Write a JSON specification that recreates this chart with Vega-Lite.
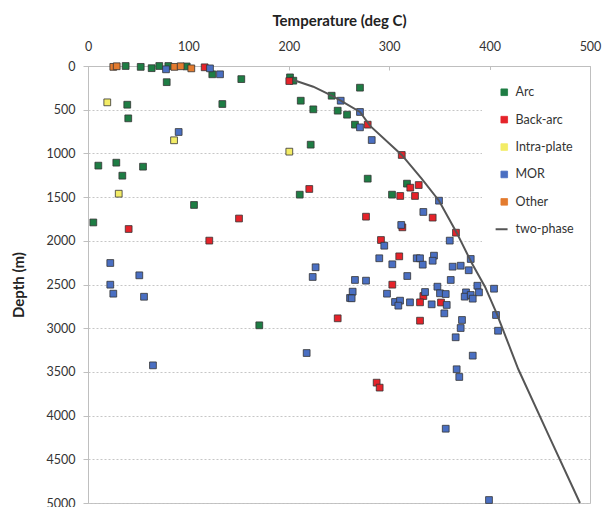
{
  "$schema": "https://vega.github.io/schema/vega-lite/v6.json",
  "autosize": "none",
  "width": 502,
  "height": 437,
  "padding": {"left": 88, "top": 66, "right": 14, "bottom": 4},
  "background": "white",
  "config": {
    "font": "Lato",
    "view": {"stroke": "#bfbfbf", "strokeWidth": 1}
  },
  "datasets": {
    "points": [
      {"t": 37.5, "d": 0, "type": "Arc"},
      {"t": 52.5, "d": 10, "type": "Arc"},
      {"t": 63.4, "d": 25, "type": "Arc"},
      {"t": 71, "d": 0, "type": "Arc"},
      {"t": 80, "d": 0, "type": "Arc"},
      {"t": 98.3, "d": 5, "type": "Arc"},
      {"t": 123.8, "d": 95, "type": "Arc"},
      {"t": 152.7, "d": 150, "type": "Arc"},
      {"t": 78.4, "d": 185, "type": "Arc"},
      {"t": 39.1, "d": 443, "type": "Arc"},
      {"t": 133.8, "d": 435, "type": "Arc"},
      {"t": 40.1, "d": 599, "type": "Arc"},
      {"t": 201.2, "d": 130, "type": "Arc"},
      {"t": 204.5, "d": 168, "type": "Arc"},
      {"t": 211.9, "d": 397, "type": "Arc"},
      {"t": 224.4, "d": 496, "type": "Arc"},
      {"t": 270.9, "d": 248, "type": "Arc"},
      {"t": 242.7, "d": 340, "type": "Arc"},
      {"t": 248.7, "d": 511, "type": "Arc"},
      {"t": 258, "d": 557, "type": "Arc"},
      {"t": 265.9, "d": 671, "type": "Arc"},
      {"t": 221.8, "d": 900, "type": "Arc"},
      {"t": 10.3, "d": 1140, "type": "Arc"},
      {"t": 28.2, "d": 1106, "type": "Arc"},
      {"t": 34.2, "d": 1255, "type": "Arc"},
      {"t": 54.8, "d": 1152, "type": "Arc"},
      {"t": 105.6, "d": 1590, "type": "Arc"},
      {"t": 5.3, "d": 1790, "type": "Arc"},
      {"t": 210.9, "d": 1472, "type": "Arc"},
      {"t": 278.6, "d": 1289, "type": "Arc"},
      {"t": 317.7, "d": 1346, "type": "Arc"},
      {"t": 302.8, "d": 1472, "type": "Arc"},
      {"t": 170.6, "d": 2967, "type": "Arc"},
      {"t": 116.2, "d": 15, "type": "Back-arc"},
      {"t": 200.5, "d": 172, "type": "Back-arc"},
      {"t": 278.6, "d": 671, "type": "Back-arc"},
      {"t": 312.5, "d": 1018, "type": "Back-arc"},
      {"t": 321, "d": 1392, "type": "Back-arc"},
      {"t": 329.4, "d": 1362, "type": "Back-arc"},
      {"t": 220.4, "d": 1407, "type": "Back-arc"},
      {"t": 311, "d": 1487, "type": "Back-arc"},
      {"t": 325.7, "d": 1487, "type": "Back-arc"},
      {"t": 343.3, "d": 1735, "type": "Back-arc"},
      {"t": 276.9, "d": 1724, "type": "Back-arc"},
      {"t": 313.1, "d": 1846, "type": "Back-arc"},
      {"t": 366.5, "d": 1907, "type": "Back-arc"},
      {"t": 291.8, "d": 1991, "type": "Back-arc"},
      {"t": 310, "d": 2178, "type": "Back-arc"},
      {"t": 150.4, "d": 1745, "type": "Back-arc"},
      {"t": 40.5, "d": 1865, "type": "Back-arc"},
      {"t": 120.8, "d": 1998, "type": "Back-arc"},
      {"t": 303.1, "d": 2502, "type": "Back-arc"},
      {"t": 334, "d": 2632, "type": "Back-arc"},
      {"t": 330.7, "d": 2704, "type": "Back-arc"},
      {"t": 351.6, "d": 2706, "type": "Back-arc"},
      {"t": 248.7, "d": 2887, "type": "Back-arc"},
      {"t": 330.7, "d": 2914, "type": "Back-arc"},
      {"t": 287.5, "d": 3623, "type": "Back-arc"},
      {"t": 290.5, "d": 3680, "type": "Back-arc"},
      {"t": 19.2, "d": 416, "type": "Intra-plate"},
      {"t": 85.7, "d": 850, "type": "Intra-plate"},
      {"t": 200.5, "d": 980, "type": "Intra-plate"},
      {"t": 30.6, "d": 1461, "type": "Intra-plate"},
      {"t": 77.7, "d": 38, "type": "MOR"},
      {"t": 121.5, "d": 27, "type": "MOR"},
      {"t": 131.5, "d": 95, "type": "MOR"},
      {"t": 90.3, "d": 755, "type": "MOR"},
      {"t": 251.7, "d": 397, "type": "MOR"},
      {"t": 270.9, "d": 526, "type": "MOR"},
      {"t": 270.9, "d": 702, "type": "MOR"},
      {"t": 282.6, "d": 847, "type": "MOR"},
      {"t": 349.6, "d": 1541, "type": "MOR"},
      {"t": 334, "d": 1670, "type": "MOR"},
      {"t": 312, "d": 1819, "type": "MOR"},
      {"t": 360.3, "d": 1998, "type": "MOR"},
      {"t": 295.1, "d": 2056, "type": "MOR"},
      {"t": 290.1, "d": 2200, "type": "MOR"},
      {"t": 303.1, "d": 2269, "type": "MOR"},
      {"t": 327.4, "d": 2200, "type": "MOR"},
      {"t": 330.7, "d": 2200, "type": "MOR"},
      {"t": 333.4, "d": 2273, "type": "MOR"},
      {"t": 344.6, "d": 2170, "type": "MOR"},
      {"t": 343.3, "d": 2228, "type": "MOR"},
      {"t": 363.2, "d": 2296, "type": "MOR"},
      {"t": 371.2, "d": 2285, "type": "MOR"},
      {"t": 381.2, "d": 2208, "type": "MOR"},
      {"t": 379.2, "d": 2337, "type": "MOR"},
      {"t": 361.3, "d": 2448, "type": "MOR"},
      {"t": 318, "d": 2403, "type": "MOR"},
      {"t": 348, "d": 2525, "type": "MOR"},
      {"t": 350.6, "d": 2601, "type": "MOR"},
      {"t": 356.3, "d": 2609, "type": "MOR"},
      {"t": 357.3, "d": 2734, "type": "MOR"},
      {"t": 342.3, "d": 2727, "type": "MOR"},
      {"t": 335.7, "d": 2586, "type": "MOR"},
      {"t": 387.8, "d": 2514, "type": "MOR"},
      {"t": 404.4, "d": 2548, "type": "MOR"},
      {"t": 389.4, "d": 2590, "type": "MOR"},
      {"t": 376.5, "d": 2590, "type": "MOR"},
      {"t": 375.2, "d": 2639, "type": "MOR"},
      {"t": 381.2, "d": 2620, "type": "MOR"},
      {"t": 383.2, "d": 2662, "type": "MOR"},
      {"t": 354.9, "d": 2830, "type": "MOR"},
      {"t": 372.5, "d": 2906, "type": "MOR"},
      {"t": 371.2, "d": 2998, "type": "MOR"},
      {"t": 406.4, "d": 2849, "type": "MOR"},
      {"t": 408.4, "d": 3029, "type": "MOR"},
      {"t": 366.2, "d": 3104, "type": "MOR"},
      {"t": 383.2, "d": 3314, "type": "MOR"},
      {"t": 367.2, "d": 3470, "type": "MOR"},
      {"t": 369.8, "d": 3558, "type": "MOR"},
      {"t": 356.3, "d": 4150, "type": "MOR"},
      {"t": 399.4, "d": 4966, "type": "MOR"},
      {"t": 265.9, "d": 2448, "type": "MOR"},
      {"t": 276.9, "d": 2456, "type": "MOR"},
      {"t": 263.6, "d": 2582, "type": "MOR"},
      {"t": 261, "d": 2654, "type": "MOR"},
      {"t": 262.6, "d": 2658, "type": "MOR"},
      {"t": 297.8, "d": 2605, "type": "MOR"},
      {"t": 305.8, "d": 2700, "type": "MOR"},
      {"t": 310.8, "d": 2685, "type": "MOR"},
      {"t": 309.1, "d": 2742, "type": "MOR"},
      {"t": 320.7, "d": 2704, "type": "MOR"},
      {"t": 226.7, "d": 2303, "type": "MOR"},
      {"t": 223.8, "d": 2414, "type": "MOR"},
      {"t": 217.8, "d": 3284, "type": "MOR"},
      {"t": 22.2, "d": 2254, "type": "MOR"},
      {"t": 22.2, "d": 2502, "type": "MOR"},
      {"t": 25.2, "d": 2605, "type": "MOR"},
      {"t": 51.1, "d": 2395, "type": "MOR"},
      {"t": 55.8, "d": 2640, "type": "MOR"},
      {"t": 64.7, "d": 3425, "type": "MOR"},
      {"t": 25.2, "d": 10, "type": "Other"},
      {"t": 28.6, "d": 3, "type": "Other"},
      {"t": 86, "d": 10, "type": "Other"},
      {"t": 92.3, "d": 3, "type": "Other"},
      {"t": 102.9, "d": 27, "type": "Other"}
    ],
    "curve": [
      {"t": 204.5, "d": 160, "type": "two-phase"},
      {"t": 224.4, "d": 237, "type": "two-phase"},
      {"t": 242.7, "d": 340, "type": "two-phase"},
      {"t": 251.7, "d": 397, "type": "two-phase"},
      {"t": 270.9, "d": 526, "type": "two-phase"},
      {"t": 281, "d": 686, "type": "two-phase"},
      {"t": 312.5, "d": 1018, "type": "two-phase"},
      {"t": 332.3, "d": 1289, "type": "two-phase"},
      {"t": 349.6, "d": 1541, "type": "two-phase"},
      {"t": 367.2, "d": 1907, "type": "two-phase"},
      {"t": 382.2, "d": 2254, "type": "two-phase"},
      {"t": 395.4, "d": 2525, "type": "two-phase"},
      {"t": 407, "d": 2830, "type": "two-phase"},
      {"t": 418.6, "d": 3173, "type": "two-phase"},
      {"t": 428.6, "d": 3470, "type": "two-phase"},
      {"t": 459.4, "d": 4241, "type": "two-phase"},
      {"t": 490, "d": 5000, "type": "two-phase"}
    ]
  },
  "encoding": {
    "x": {
      "field": "t", "type": "quantitative",
      "scale": {"domain": [0, 500], "nice": false, "zero": false},
      "axis": {
        "orient": "top",
        "title": "Temperature (deg C)",
        "values": [0, 100, 200, 300, 400, 500],
        "format": "d",
        "labelFlush": false,
        "grid": false,
        "domainColor": "#bfbfbf",
        "ticks": true, "tickSize": -4, "tickColor": "#bfbfbf",
        "labelFontSize": 12.5, "labelColor": "#333333", "labelPadding": 17,
        "titleFontSize": 15, "titleFontWeight": "bold", "titleColor": "#222222", "titlePadding": 12
      }
    },
    "y": {
      "field": "d", "type": "quantitative",
      "scale": {"domain": [0, 5000], "reverse": true, "nice": false, "zero": false},
      "axis": {
        "title": "Depth (m)",
        "values": [0, 500, 1000, 1500, 2000, 2500, 3000, 3500, 4000, 4500, 5000],
        "format": "d",
        "labelFlush": false,
        "grid": true, "gridColor": "#c6c6c6", "gridDash": [2, 2], "gridWidth": 1,
        "domainColor": "#bfbfbf",
        "ticks": true, "tickSize": 5, "tickColor": "#bfbfbf",
        "labelFontSize": 12.5, "labelColor": "#333333", "labelPadding": 8,
        "titleFontSize": 15, "titleFontWeight": "bold", "titleColor": "#222222", "titlePadding": 20
      }
    },
    "color": {
      "field": "type", "type": "nominal", "title": null,
      "scale": {
        "domain": ["Arc", "Back-arc", "Intra-plate", "MOR", "Other", "two-phase"],
        "range": ["#1e7d44", "#e5232a", "#f3ec66", "#4a6fc2", "#e37b2f", "#555555"]
      },
      "legend": {
        "orient": "none", "legendX": 394, "legendY": 4,
        "fillColor": "white", "padding": 16,
        "labelFontSize": 12.5, "labelColor": "#333333", "labelOffset": 5,
        "rowPadding": 14.4, "symbolSize": 44,
        "symbolStrokeColor": "#3a3a3a",
        "encode": {"symbols": {"update": {"strokeWidth": {"signal": "datum.value === 'two-phase' ? 2 : 0.8"}, "stroke": {"value": "#3a3a3a"}}}}
      }
    }
  },
  "layer": [
    {
      "data": {"name": "points"},
      "mark": {"type": "point", "filled": true, "opacity": 1, "size": 46, "stroke": "#333333", "strokeWidth": 0.8},
      "encoding": {
        "shape": {
          "field": "type", "type": "nominal", "title": null,
          "scale": {
            "domain": ["Arc", "Back-arc", "Intra-plate", "MOR", "Other", "two-phase"],
            "range": ["square", "square", "square", "square", "square", "M-2.6,0H1"]
          }
        }
      }
    },
    {
      "data": {"name": "curve"},
      "mark": {"type": "line", "strokeWidth": 2},
      "encoding": {}
    }
  ]
}
